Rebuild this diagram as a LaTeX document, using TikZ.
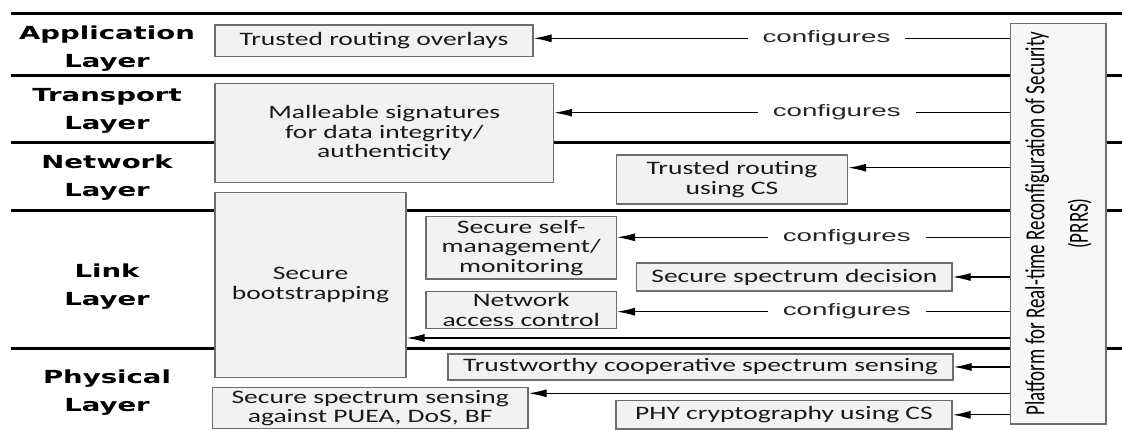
\documentclass[tikz,border=0pt]{standalone}
\usepackage{fontspec}
\setmainfont{Carlito}[FakeStretch=1.45]
\newfontfamily\capafont{DejaVu Sans}[FakeStretch=1.53]
\newfontfamily\etiquetafont{Liberation Sans}[FakeStretch=1.68]
\newfontfamily\prrsfont{Carlito}
\usetikzlibrary{arrows.meta}
\definecolor{caja}{HTML}{F2F2F2}
\definecolor{borde}{HTML}{6E6E6E}
\tikzset{
  bloque/.style={rectangle,draw=borde,fill=caja,line width=1.2pt,align=center,inner sep=0pt,
    font=\fontsize{19}{19.5}\selectfont,text=black!90},
  capa/.style={align=center,font=\capafont\bfseries\fontsize{18}{28}\selectfont},
  flujo/.style={-{Latex[length=18pt,width=8pt]},line width=1.2pt},
  etiqueta/.style={fill=white,inner xsep=15pt,inner ysep=3pt,text=black!85,
    font=\etiquetafont\fontsize{16.5}{18}\selectfont},
  separador/.style={line width=3pt},
  plataforma/.style={rectangle,draw=borde,fill=caja!60!white,line width=1.2pt,align=center,inner sep=0pt,
    font=\prrsfont\fontsize{19}{30}\selectfont}
}
\begin{document}
\begin{tikzpicture}[x=1pt,y=-1pt]
\useasboundingbox (0,0) rectangle (1122,430);
\foreach \y in {13.3,76,142.3,211,349}
  \draw[separador] (10.7,\y) -- (1122,\y);
\node[capa] (aplicacion) at (107,49) {Application\\Layer};
\node[capa] (transporte) at (107,110.7) {Transport\\Layer};
\node[capa] (red) at (107,178) {Network\\Layer};
\node[capa] (enlace) at (107,287) {Link\\Layer};
\node[capa] (fisica) at (107,392.5) {Physical\\Layer};
\node[bloque,minimum width=318,minimum height=31.5] (overlays) at (374,40.75) {Trusted routing overlays};
\node[bloque,minimum width=338.6,minimum height=99.4] (firmas) at (384.3,133) {Malleable signatures\\for data integrity/\\authenticity};
\node[bloque,minimum width=231,minimum height=49] (rutacs) at (732,179.5) {Trusted routing\\using CS};
\node[bloque,minimum width=191,minimum height=185.4] (arranque) at (310.5,285) {Secure\\bootstrapping};
\node[bloque,minimum width=190.4,minimum height=62.3] (autogestion) at (521.2,247.85) {Secure self-\\management/\\monitoring};
\node[bloque,minimum width=315.2,minimum height=28] (decision) at (794.4,277) {Secure spectrum decision};
\node[bloque,minimum width=190.4,minimum height=36.6] (acceso) at (521.2,310) {Network\\access control};
\node[bloque,minimum width=505,minimum height=26] (cooperativa) at (700.5,367) {Trustworthy cooperative spectrum sensing};
\node[bloque,minimum width=315.5,minimum height=40.6] (deteccion) at (370.25,408) {Secure spectrum sensing\\against PUEA, DoS, BF};
\node[bloque,minimum width=336,minimum height=28.3] (phycripto) at (784,414.85) {PHY cryptography using CS};
\node[plataforma,minimum width=400.7,minimum height=65.7,xscale=1.45,rotate=90] (prrs) at (1058.35,223.65) {Platform for Real-time Reconfiguration of Security\\(PRRS)};
\draw[flujo] (prrs.north |- 0,38.3) -- node[etiqueta,pos=0.385]{configures} (overlays.east |- 0,38.3);
\draw[flujo] (prrs.north |- 0,112.7) -- node[etiqueta,pos=0.38]{configures} (firmas.east |- 0,112.7);
\draw[flujo] (prrs.north |- 0,167.7) -- (rutacs.east |- 0,167.7);
\draw[flujo] (prrs.north |- 0,237.3) -- node[etiqueta,pos=0.415]{configures} (autogestion.east |- 0,237.3);
\draw[flujo] (prrs.north |- decision.east) -- (decision.east);
\draw[flujo] (prrs.north |- 0,311.7) -- node[etiqueta,pos=0.415]{configures} (acceso.east |- 0,311.7);
\draw[flujo] (prrs.north |- 0,338) -- (arranque.east |- 0,338);
\draw[flujo] (prrs.north |- cooperativa.east) -- (cooperativa.east);
\draw[flujo] (prrs.north |- 0,393.3) -- (deteccion.east |- 0,393.3);
\draw[flujo] (prrs.north |- phycripto.east) -- (phycripto.east);
\end{tikzpicture}
\end{document}
